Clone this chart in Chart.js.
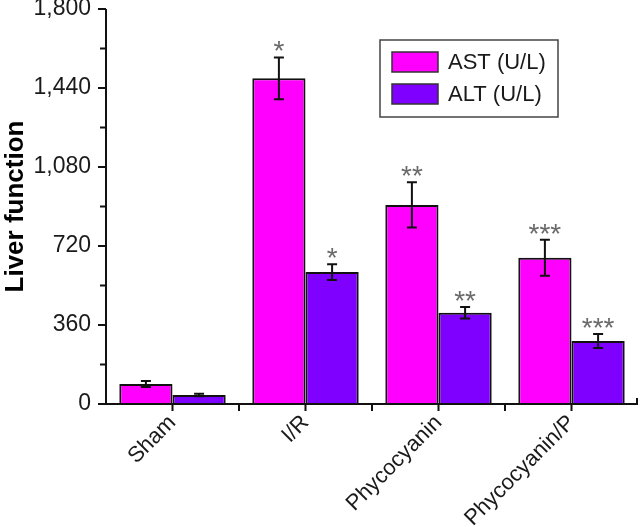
<!DOCTYPE html>
<html>
<head>
<meta charset="utf-8">
<script src="https://cdn.jsdelivr.net/npm/chart.js@4.4.0/dist/chart.umd.min.js"></script>
<style>
  html, body { margin: 0; padding: 0; background: #fff; }
  #wrap { width: 640px; height: 527px; }
</style>
</head>
<body>
<div id="wrap"><canvas id="chart" width="640" height="527"></canvas></div>
<script>
// datos
const categories = ['Sham', 'I/R', 'Phycocyanin', 'Phycocyanin/P'];
const astValues = [91, 1484, 907, 667];
const astErrors = [14, 95, 103, 82];
const altValues = [41, 601, 416, 287];
const altErrors = [6, 36, 26, 32];
const astMarks = ['', '*', '**', '***'];
const altMarks = ['', '*', '**', '***'];
const yTicks = [0, 360, 720, 1080, 1440, 1800];

const FONT = "'Liberation Sans', Arial, sans-serif";
const AST_COLOR = '#ff00ff';
const ALT_COLOR = '#7f00ff';

// barras de error + asteriscos
const errorBarsPlugin = {
    id: 'errorBars',
    afterDatasetsDraw(chart) {
        const ctx = chart.ctx;
        const yScale = chart.scales.y;
        const errs = [astErrors, altErrors];
        const marks = [astMarks, altMarks];
        chart.data.datasets.forEach((ds, di) => {
            const meta = chart.getDatasetMeta(di);
            meta.data.forEach((bar, i) => {
                const v = ds.data[i];
                const e = errs[di][i];
                const top = yScale.getPixelForValue(v + e);
                const bot = yScale.getPixelForValue(v - e);
                ctx.save();
                ctx.strokeStyle = '#111';
                ctx.lineWidth = 2;
                ctx.beginPath();
                ctx.moveTo(bar.x, top);
                ctx.lineTo(bar.x, bot);
                ctx.moveTo(bar.x - 5, top);
                ctx.lineTo(bar.x + 5, top);
                ctx.moveTo(bar.x - 5, bot);
                ctx.lineTo(bar.x + 5, bot);
                ctx.stroke();
                if (marks[di][i]) {
                    ctx.fillStyle = '#6a6a6a';
                    ctx.font = '28px ' + FONT;
                    ctx.textAlign = 'center';
                    ctx.textBaseline = 'alphabetic';
                    ctx.fillText(marks[di][i], bar.x, top + 3);
                }
                ctx.restore();
            });
        });
    }
};

// ejes con marcas mayores y menores
const axesPlugin = {
    id: 'axesTicks',
    afterDraw(chart) {
        const ctx = chart.ctx;
        const area = chart.chartArea;
        const x = chart.scales.x;
        const y = chart.scales.y;
        ctx.save();
        ctx.strokeStyle = '#111';
        ctx.lineWidth = 2;
        ctx.beginPath();
        ctx.moveTo(area.left, area.top);
        ctx.lineTo(area.left, area.bottom);
        ctx.lineTo(area.right, area.bottom);
        // ticks eje Y
        for (let v = 0; v <= 1800; v += 180) {
            const py = y.getPixelForValue(v);
            const len = (v % 360 === 0) ? 8 : 6;
            ctx.moveTo(area.left - len, py);
            ctx.lineTo(area.left, py);
        }
        // ticks eje X (centros y separaciones)
        for (let i = 0; i < categories.length; i++) {
            const px = x.getPixelForValue(i);
            ctx.moveTo(px, area.bottom);
            ctx.lineTo(px, area.bottom + 7);
            if (i > 0) {
                const mid = (px + x.getPixelForValue(i - 1)) / 2;
                ctx.moveTo(mid, area.bottom);
                ctx.lineTo(mid, area.bottom + 7);
            }
        }
        ctx.moveTo(area.right - 1, area.bottom);
        ctx.lineTo(area.right - 1, area.bottom - 6);
        ctx.stroke();
        ctx.restore();
    }
};

// leyenda con marco dentro del área
const boxLegendPlugin = {
    id: 'boxLegend',
    afterDraw(chart) {
        const ctx = chart.ctx;
        const bx = 380, by = 40, bw = 178, bh = 77;
        ctx.save();
        ctx.strokeStyle = '#444';
        ctx.lineWidth = 1.5;
        ctx.strokeRect(bx, by, bw, bh);
        chart.data.datasets.forEach((ds, i) => {
            const sy = by + 12 + i * 32;
            ctx.fillStyle = ds.backgroundColor;
            ctx.fillRect(bx + 12, sy, 46, 20);
            ctx.strokeStyle = '#333';
            ctx.lineWidth = 1.5;
            ctx.strokeRect(bx + 12, sy, 46, 20);
            ctx.fillStyle = '#1a1a1a';
            ctx.font = '22px ' + FONT;
            ctx.textAlign = 'left';
            ctx.textBaseline = 'middle';
            ctx.fillText(ds.label, bx + 68, sy + 11);
        });
        ctx.restore();
    }
};

new Chart(document.getElementById('chart').getContext('2d'), {
    type: 'bar',
    data: {
        labels: categories,
        datasets: [{
            label: 'AST (U/L)',
            data: astValues,
            backgroundColor: AST_COLOR,
            borderColor: '#111',
            borderWidth: 2,
            categoryPercentage: 0.8,
            barPercentage: 1.0
        }, {
            label: 'ALT (U/L)',
            data: altValues,
            backgroundColor: ALT_COLOR,
            borderColor: '#111',
            borderWidth: 2,
            categoryPercentage: 0.8,
            barPercentage: 1.0
        }]
    },
    options: {
        responsive: false,
        animation: false,
        layout: { padding: { top: 9, right: 2, left: 0, bottom: 0 } },
        plugins: {
            legend: { display: false },
            tooltip: { enabled: false }
        },
        scales: {
            x: {
                offset: true,
                grid: { display: false },
                border: { display: false },
                ticks: {
                    color: '#1a1a1a',
                    font: { family: FONT, size: 22 },
                    minRotation: 45,
                    maxRotation: 45,
                    padding: -2
                },
                afterFit: (scale) => {
                    scale.height = 123;
                    scale.paddingLeft = 0;
                    scale.paddingRight = 0;
                }
            },
            y: {
                min: 0,
                max: 1800,
                grid: { display: false },
                border: { display: false },
                afterBuildTicks: (scale) => {
                    scale.ticks = yTicks.map(v => ({ value: v }));
                },
                ticks: {
                    color: '#1a1a1a',
                    font: { family: FONT, size: 23 },
                    padding: 7,
                    callback: (v) => Number(v).toLocaleString('en-US')
                },
                title: {
                    display: true,
                    text: 'Liver function',
                    color: '#000',
                    font: { family: FONT, size: 26, weight: 'bold' },
                    padding: { top: 0, bottom: 4 }
                },
                afterFit: (scale) => {
                    scale.width = 106;
                    scale.paddingTop = 0;
                    scale.paddingBottom = 0;
                }
            }
        }
    },
    plugins: [errorBarsPlugin, axesPlugin, boxLegendPlugin]
});
</script>
</body>
</html>
